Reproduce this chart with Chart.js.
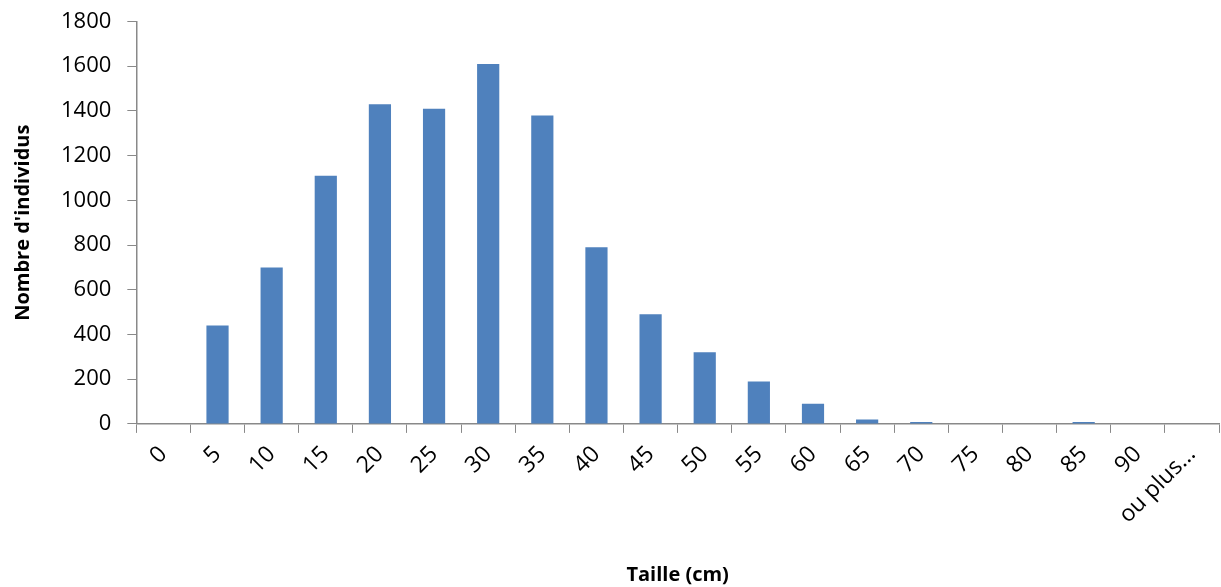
<!DOCTYPE html>
<html>
<head>
<meta charset="utf-8">
<script src="https://cdn.jsdelivr.net/npm/chart.js@4"></script>
<style>
  html, body { margin: 0; padding: 0; background: #fff; }
  #wrap { width: 1221px; height: 587px; }
</style>
</head>
<body>
<div id="wrap"><canvas id="histo"></canvas></div>
<script>
// Classes de taille et effectifs
const classes = ['0', '5', '10', '15', '20', '25', '30', '35', '40', '45',
                 '50', '55', '60', '65', '70', '75', '80', '85', '90', 'ou plus...'];
const effectifs = [0, 440, 700, 1110, 1430, 1410, 1610, 1380, 790, 490,
                   320, 190, 90, 20, 8, 0, 0, 8, 0, 0];
const yTicks = [0, 200, 400, 600, 800, 1000, 1200, 1400, 1600, 1800];

const fontFamily = '"Open Sans", "Liberation Sans", sans-serif';

const ctx = document.getElementById('histo').getContext('2d');
new Chart(ctx, {
    type: 'bar',
    data: {
        labels: classes,
        datasets: [{
            data: effectifs,
            backgroundColor: '#4f81bd',
            borderWidth: 0,
            categoryPercentage: 1,
            barPercentage: 0.41
        }]
    },
    options: {
        responsive: true,
        maintainAspectRatio: false,
        animation: false,
        layout: { padding: { top: 4, right: 2, left: 11, bottom: 0 } },
        plugins: {
            legend: { display: false },
            tooltip: { enabled: false }
        },
        scales: {
            x: {
                offset: true,
                grid: {
                    offset: true,
                    drawOnChartArea: false,
                    tickLength: 9,
                    color: '#898989'
                },
                border: { color: '#898989', width: 1.5 },
                ticks: {
                    color: '#000',
                    font: { family: fontFamily, size: 23 },
                    minRotation: 45,
                    maxRotation: 45,
                    autoSkip: false,
                    padding: 8
                },
                title: {
                    display: true,
                    text: 'Taille (cm)',
                    color: '#000',
                    font: { family: fontFamily, size: 20, weight: 'bold' },
                    padding: { top: 26, bottom: 0 }
                }
            },
            y: {
                min: 0,
                max: 1800,
                afterBuildTicks: function(axis) {
                    axis.ticks = yTicks.map(v => ({ value: v }));
                },
                grid: {
                    drawOnChartArea: false,
                    tickLength: 9,
                    color: '#898989'
                },
                border: { color: '#898989', width: 1.5 },
                ticks: {
                    color: '#000',
                    font: { family: fontFamily, size: 22, lineHeight: 0.5 },
                    padding: 16,
                    callback: function(value) { return String(value); }
                },
                title: {
                    display: true,
                    text: "Nombre d'individus",
                    color: '#000',
                    font: { family: fontFamily, size: 20, weight: 'bold' },
                    padding: { top: 0, bottom: 10 }
                }
            }
        }
    }
});
</script>
</body>
</html>
